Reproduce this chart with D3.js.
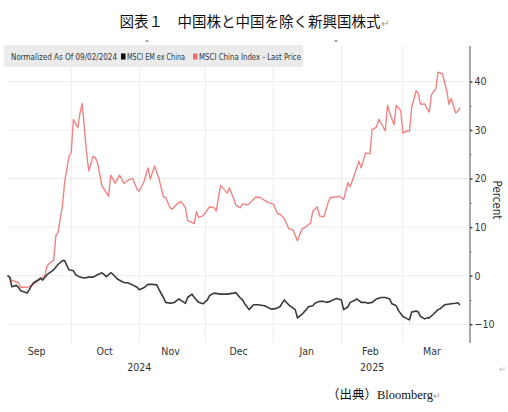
<!DOCTYPE html>
<html>
<head>
<meta charset="utf-8">
<script src="https://cdn.jsdelivr.net/npm/d3@7"></script>
<style>
  body { margin: 0; background: #fff; }
  svg { display: block; }
  .narrow { font-family: "Liberation Sans Narrow", "DejaVu Sans Condensed", "Arial Narrow", sans-serif; font-stretch: condensed; }
</style>
</head>
<body>
<div id="chart"></div>
<script>
// MSCI China vs MSCI EM ex China, normalised to 09/02/2024 (percent)
const chinaDates = ["2024-09-02","2024-09-03","2024-09-04","2024-09-07","2024-09-08","2024-09-11","2024-09-13","2024-09-15","2024-09-17","2024-09-19","2024-09-20","2024-09-22","2024-09-23","2024-09-24","2024-09-25","2024-09-27","2024-09-28","2024-09-30","2024-10-01","2024-10-02","2024-10-04","2024-10-05","2024-10-06","2024-10-08","2024-10-09","2024-10-11","2024-10-12","2024-10-13","2024-10-15","2024-10-16","2024-10-18","2024-10-19","2024-10-21","2024-10-23","2024-10-25","2024-10-27","2024-10-29","2024-10-31","2024-11-01","2024-11-03","2024-11-05","2024-11-06","2024-11-08","2024-11-10","2024-11-12","2024-11-13","2024-11-15","2024-11-16","2024-11-18","2024-11-20","2024-11-22","2024-11-23","2024-11-26","2024-11-27","2024-11-28","2024-11-30","2024-12-03","2024-12-05","2024-12-06","2024-12-08","2024-12-11","2024-12-12","2024-12-14","2024-12-15","2024-12-17","2024-12-18","2024-12-20","2024-12-21","2024-12-24","2024-12-26","2024-12-28","2024-12-30","2025-01-01","2025-01-03","2025-01-04","2025-01-06","2025-01-08","2025-01-10","2025-01-12","2025-01-14","2025-01-16","2025-01-18","2025-01-19","2025-01-21","2025-01-22","2025-01-24","2025-01-26","2025-01-27","2025-01-30","2025-01-31","2025-02-02","2025-02-04","2025-02-05","2025-02-07","2025-02-09","2025-02-10","2025-02-12","2025-02-14","2025-02-15","2025-02-17","2025-02-18","2025-02-19","2025-02-21","2025-02-22","2025-02-23","2025-02-25","2025-02-26","2025-02-28","2025-03-01","2025-03-03","2025-03-04","2025-03-05","2025-03-07","2025-03-08","2025-03-09","2025-03-11","2025-03-12","2025-03-13","2025-03-14","2025-03-16","2025-03-17","2025-03-19","2025-03-21","2025-03-22","2025-03-23","2025-03-25","2025-03-26","2025-03-27"];
const chinaValues = [0,-0.3,-1.0,-1.4,-2.4,-2.4,-2.0,-1.4,-0.7,0,2.0,2.9,3.1,8.2,8.9,14.4,19.2,24.6,25.3,32.2,30.5,33.5,35.5,25.3,21.6,24.6,24.3,23.3,18.5,17.8,16.4,20.7,19.0,20.7,19.0,19.7,20.0,17.8,17.4,19.2,22.2,19.9,22.6,19.9,16.2,16.1,14.0,13.7,14.7,15.3,14.0,11.4,10.7,13.2,12.0,12.3,14.2,14.0,13.3,18.6,17.0,18.1,15.8,14.5,14.0,14.8,14.6,14.8,16.2,16.1,15.5,15.0,14.8,12.7,12.7,11.8,9.7,9.4,7.2,9.6,10.1,10.9,13.3,14.2,12.3,12.1,15.1,16.1,16.2,16.4,15.7,19.2,18.3,20.9,23.6,22.2,25.3,25.1,30.1,30.6,32.2,31.5,29.8,35.1,33.5,31.1,35.1,34.0,29.4,29.8,29.8,34.6,38.1,37.6,35.3,35.4,34.4,33.7,37.3,38.5,41.9,41.6,38.0,35.3,36.5,33.5,33.9,34.6];

const emDates = ["2024-09-02","2024-09-03","2024-09-04","2024-09-06","2024-09-07","2024-09-08","2024-09-10","2024-09-11","2024-09-13","2024-09-14","2024-09-16","2024-09-17","2024-09-18","2024-09-20","2024-09-23","2024-09-25","2024-09-27","2024-09-28","2024-09-29","2024-09-30","2024-10-02","2024-10-03","2024-10-05","2024-10-07","2024-10-09","2024-10-11","2024-10-13","2024-10-15","2024-10-16","2024-10-17","2024-10-19","2024-10-20","2024-10-22","2024-10-25","2024-10-27","2024-10-28","2024-10-31","2024-11-01","2024-11-03","2024-11-05","2024-11-07","2024-11-09","2024-11-10","2024-11-12","2024-11-13","2024-11-15","2024-11-17","2024-11-19","2024-11-20","2024-11-22","2024-11-23","2024-11-25","2024-11-26","2024-11-28","2024-11-30","2024-12-02","2024-12-03","2024-12-05","2024-12-08","2024-12-11","2024-12-14","2024-12-15","2024-12-17","2024-12-18","2024-12-19","2024-12-21","2024-12-23","2024-12-25","2024-12-28","2024-12-31","2025-01-02","2025-01-04","2025-01-06","2025-01-08","2025-01-11","2025-01-12","2025-01-14","2025-01-16","2025-01-17","2025-01-19","2025-01-20","2025-01-22","2025-01-24","2025-01-25","2025-01-27","2025-01-28","2025-01-30","2025-02-01","2025-02-02","2025-02-04","2025-02-05","2025-02-07","2025-02-08","2025-02-10","2025-02-12","2025-02-13","2025-02-15","2025-02-17","2025-02-19","2025-02-21","2025-02-23","2025-02-24","2025-02-26","2025-02-27","2025-03-01","2025-03-03","2025-03-04","2025-03-05","2025-03-07","2025-03-08","2025-03-09","2025-03-11","2025-03-12","2025-03-13","2025-03-15","2025-03-17","2025-03-18","2025-03-20","2025-03-23","2025-03-25","2025-03-26","2025-03-27"];
const emValues = [0,-0.3,-2.3,-2.0,-2.4,-3.1,-3.4,-3.6,-2.0,-1.4,-0.9,-0.5,-0.9,0.2,1.2,2.3,3.1,3.1,2.1,1.2,1.0,0.2,-0.3,-0.5,-0.3,-0.3,0.2,0.6,0.2,-0.2,0.6,0.3,-0.7,-1.4,-1.5,-1.7,-2.4,-2.9,-2.5,-1.8,-1.8,-1.9,-2.9,-4.5,-5.5,-5.7,-5.5,-4.8,-5.1,-5.7,-4.5,-3.8,-4.5,-5.5,-5.8,-5.0,-4.1,-3.6,-3.8,-3.8,-3.6,-3.5,-4.6,-5.0,-5.8,-7.0,-6.0,-6.0,-6.2,-6.9,-6.8,-6.4,-5.0,-6.0,-7.0,-8.7,-8.0,-7.0,-6.4,-6.2,-5.7,-5.3,-5.3,-5.5,-5.3,-5.0,-4.7,-5.0,-7.0,-6.4,-5.5,-5.1,-4.8,-5.5,-5.5,-5.7,-5.5,-4.8,-4.5,-4.5,-4.8,-5.8,-6.2,-7.2,-8.4,-8.9,-9.1,-7.5,-7.3,-7.5,-8.4,-8.9,-8.7,-8.7,-7.9,-7.0,-6.8,-6.0,-5.8,-5.7,-5.6,-6.0];

const yTicks = [-10, 0, 10, 20, 30, 40];
const yMinorTicks = [-5, 5, 15, 25, 35];
const monthLabels = ["Sep", "Oct", "Nov", "Dec", "Jan", "Feb", "Mar"];
const monthMids = ["2024-09-15","2024-10-16","2024-11-15","2024-12-16","2025-01-16","2025-02-14","2025-03-14"];
const yearLabels = ["2024", "2025"];
const yearDates = ["2024-11-01","2025-02-15"];
const gridMonths = ["2024-10-01","2024-11-01","2024-12-01","2025-01-01","2025-02-01","2025-03-01"];

const W = 508, H = 412;
const parse = d3.timeParse("%Y-%m-%d");

const svg = d3.select("#chart").append("svg")
    .attr("width", W)
    .attr("height", H);

// scales: plot spans x 7..460, the right axis sits at 470
const x = d3.scaleTime()
    .domain([parse("2024-09-02"), parse("2025-03-27")])
    .range([7.5, 460]);
const y = d3.scaleLinear()
    .domain([-10, 40])
    .range([324.2, 81.5]);

const plotTop = 46, plotBottom = 343, axisX = 470;

// title
const title = svg.append("text")
    .attr("x", 254).attr("y", 27)
    .attr("text-anchor", "middle")
    .style("font-family", "'Noto Sans CJK JP', sans-serif")
    .style("font-size", "14.5px")
    .attr("fill", "#111");
title.append("tspan").text("図表１　中国株と中国を除く新興国株式");
title.append("tspan").attr("fill", "#999").style("font-size", "10px").text("↵");

// small stray marks above the plot
svg.selectAll(".dash").data([147, 336]).enter().append("line")
    .attr("x1", d => d - 1.5).attr("x2", d => d + 1.5)
    .attr("y1", 41).attr("y2", 41)
    .attr("stroke", "#555").attr("stroke-width", 1);

// grid
svg.append("g").selectAll("line").data(yTicks).enter().append("line")
    .attr("x1", 7).attr("x2", axisX)
    .attr("y1", d => y(d)).attr("y2", d => y(d))
    .attr("stroke", "#ececec").attr("stroke-width", 1);
svg.append("g").selectAll("line").data(gridMonths).enter().append("line")
    .attr("x1", d => x(parse(d))).attr("x2", d => x(parse(d)))
    .attr("y1", plotTop).attr("y2", plotBottom)
    .attr("stroke", "#ececec").attr("stroke-width", 1);

// legend strip
svg.append("rect")
    .attr("x", 4).attr("y", 45).attr("width", 299).attr("height", 22)
    .attr("fill", "#ebebeb");
const legendY = 60;
svg.append("text").attr("class", "narrow")
    .attr("x", 11).attr("y", legendY)
    .attr("textLength", 106).attr("lengthAdjust", "spacingAndGlyphs")
    .style("font-size", "8.5px").attr("fill", "#333")
    .text("Normalized As Of 09/02/2024");
svg.append("rect").attr("x", 121).attr("y", legendY - 6.5).attr("width", 4.5).attr("height", 6).attr("fill", "#000");
svg.append("text").attr("class", "narrow")
    .attr("x", 127).attr("y", legendY)
    .attr("textLength", 58).attr("lengthAdjust", "spacingAndGlyphs")
    .style("font-size", "8.5px").attr("fill", "#333")
    .text("MSCI EM ex China");
svg.append("rect").attr("x", 193).attr("y", legendY - 6.5).attr("width", 4.5).attr("height", 6).attr("fill", "#f26b6b");
svg.append("text").attr("class", "narrow")
    .attr("x", 199).attr("y", legendY)
    .attr("textLength", 102).attr("lengthAdjust", "spacingAndGlyphs")
    .style("font-size", "8.5px").attr("fill", "#333")
    .text("MSCI China Index - Last Price");

// lines
const line = d3.line()
    .x(d => x(d.date))
    .y(d => y(d.value))
    .curve(d3.curveLinear);

const china = chinaDates.map((d, i) => ({ date: parse(d), value: chinaValues[i] }));
const em = emDates.map((d, i) => ({ date: parse(d), value: emValues[i] }));

svg.append("path").datum(china)
    .attr("d", line)
    .attr("fill", "none")
    .attr("stroke", "#f08484")
    .attr("stroke-width", 1.4)
    .attr("stroke-linejoin", "round");
svg.append("path").datum(em)
    .attr("d", line)
    .attr("fill", "none")
    .attr("stroke", "#3a3a3a")
    .attr("stroke-width", 1.6)
    .attr("stroke-linejoin", "round");

// right axis
svg.append("line")
    .attr("x1", axisX).attr("x2", axisX)
    .attr("y1", plotTop).attr("y2", plotBottom)
    .attr("stroke", "#777").attr("stroke-width", 1.3);

const yAxis = svg.append("g")
    .attr("class", "narrow")
    .attr("transform", `translate(${axisX},0)`)
    .call(d3.axisRight(y).tickValues(yTicks).tickSize(2.5).tickPadding(2).tickFormat(d3.format("d")));
yAxis.select(".domain").remove();
yAxis.selectAll(".tick line").attr("stroke", "#444").attr("stroke-width", 1.5);
yAxis.selectAll(".tick text")
    .attr("fill", "#333")
    .style("font-size", "10.5px");

const yMinor = svg.append("g")
    .attr("transform", `translate(${axisX},0)`)
    .call(d3.axisRight(y).tickValues(yMinorTicks).tickSize(1.5).tickFormat(""));
yMinor.select(".domain").remove();
yMinor.selectAll(".tick line").attr("stroke", "#666");

svg.append("text").attr("class", "narrow")
    .attr("transform", "translate(493,200) rotate(90)")
    .attr("text-anchor", "middle")
    .style("font-size", "11.5px")
    .attr("fill", "#333")
    .text("Percent");

// bottom axis: month names centred in each month, years below
const xAxis = svg.append("g")
    .attr("class", "narrow")
    .attr("transform", `translate(0,${plotBottom})`)
    .call(d3.axisBottom(x)
        .tickValues(monthMids.map(parse))
        .tickSize(0)
        .tickPadding(5)
        .tickFormat((d, i) => monthLabels[i]));
xAxis.select(".domain").remove();
xAxis.selectAll(".tick text")
    .attr("fill", "#333")
    .style("font-size", "10.5px");

svg.append("g").attr("class", "narrow").selectAll("text")
    .data(yearLabels).enter().append("text")
    .attr("x", (d, i) => x(parse(yearDates[i])))
    .attr("y", 371)
    .attr("text-anchor", "middle")
    .style("font-size", "10.5px")
    .attr("fill", "#333")
    .text(d => d);

// source
const src = svg.append("text")
    .attr("x", 327).attr("y", 399)
    .style("font-size", "12.5px")
    .attr("fill", "#111");
src.append("tspan").style("font-family", "'Noto Sans CJK JP', sans-serif").text("（出典）");
src.append("tspan").style("font-family", "'Liberation Serif', serif").text("Bloomberg");
src.append("tspan").attr("fill", "#999").style("font-size", "9px").text("↵");

svg.append("text")
    .attr("x", 499).attr("y", 372)
    .style("font-size", "8px")
    .attr("fill", "#bbb")
    .text("↵");
</script>
</body>
</html>
